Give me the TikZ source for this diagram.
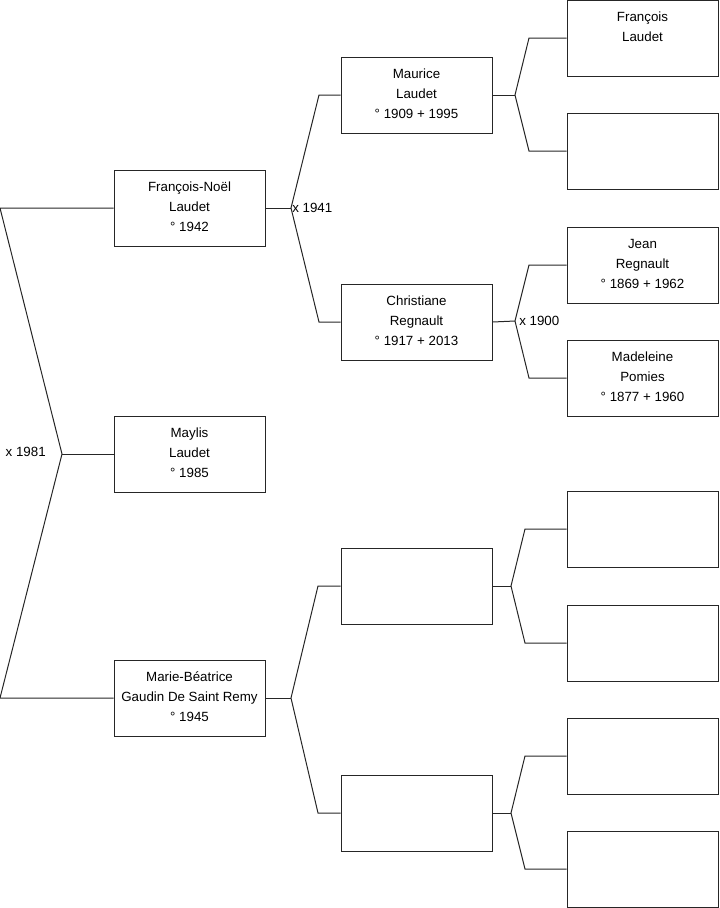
\documentclass[tikz,border=0pt]{standalone}
\usepackage{fontspec}
\setmainfont{Liberation Sans}
\begin{document}
\begin{tikzpicture}[x=0.75pt,y=-0.75pt,
  box/.style={draw=black!85, line width=0.75pt, minimum width=113.25pt, minimum height=57pt, inner sep=0pt},
  txt/.style={anchor=north, align=center, inner sep=0pt, font=\fontsize{10}{15}\selectfont, yshift=-6.1pt},
  link/.style={draw=black!85, line width=0.75pt},
  lbl/.style={font=\fontsize{10}{15}\selectfont, inner sep=0pt}]
\useasboundingbox (0,0) rectangle (719,908);

% column 1
\node[box] (fn) at (189.5,208) {};
\node[txt] (fnt) at (fn.north) {\strut François-Noël\\Laudet\\° 1942};
\node[box] (ma) at (189.5,454) {};
\node[txt] (mat) at (ma.north) {\strut Maylis\\Laudet\\° 1985};
\node[box] (mb) at (189.5,698) {};
\node[txt] (mbt) at (mb.north) {\strut Marie-Béatrice\\Gaudin De Saint Remy\\° 1945};

% column 2
\node[box] (mu) at (416.5,95) {};
\node[txt] (mut) at (mu.north) {\strut Maurice\\Laudet\\° 1909 + 1995};
\node[box] (ch) at (416.5,322) {};
\node[txt] (cht) at (ch.north) {\strut Christiane\\Regnault\\° 1917 + 2013};
\node[box] (e1) at (416.5,586) {};
\node[box] (e2) at (416.5,813) {};

% column 3
\node[box] (fr) at (642.5,38) {};
\node[txt] (frt) at (fr.north) {\strut François\\Laudet};
\node[box] (f2) at (642.5,151) {};
\node[box] (je) at (642.5,265) {};
\node[txt] (jet) at (je.north) {\strut Jean\\Regnault\\° 1869 + 1962};
\node[box] (md) at (642.5,378) {};
\node[txt] (mdt) at (md.north) {\strut Madeleine\\Pomies\\° 1877 + 1960};
\node[box] (g1) at (642.5,529) {};
\node[box] (g2) at (642.5,643) {};
\node[box] (g3) at (642.5,756) {};
\node[box] (g4) at (642.5,869) {};

% junctions and corners
\coordinate (a0) at (0,208);
\coordinate (b0) at (0,698);
\coordinate (j0) at (62,454);
\coordinate (j1) at (291,208);
\coordinate (c1a) at (319,95);
\coordinate (c1b) at (319,322);
\coordinate (j2) at (515,95);
\coordinate (c2a) at (529,38);
\coordinate (c2b) at (529,151);
\coordinate (j3) at (515,321);
\coordinate (c3a) at (529,265);
\coordinate (c3b) at (529,378);
\coordinate (k1) at (291,698);
\coordinate (d1a) at (318,586);
\coordinate (d1b) at (318,813);
\coordinate (k2) at (511,586);
\coordinate (d2a) at (525,529);
\coordinate (d2b) at (525,643);
\coordinate (k3) at (511,813);
\coordinate (d3a) at (525,756);
\coordinate (d3b) at (525,869);

% connectors
\draw[link] (fn.west) -- (a0) -- (j0) -- (b0) -- (mb.west);
\draw[link] (j0) -- (ma.west);
\draw[link] (fn.east) -- (j1);
\draw[link] (mu.west) -- (c1a) -- (j1) -- (c1b) -- (ch.west);
\draw[link] (mu.east) -- (j2);
\draw[link] (fr.west) -- (c2a) -- (j2) -- (c2b) -- (f2.west);
\draw[link] (ch.east) -- (j3);
\draw[link] (je.west) -- (c3a) -- (j3) -- (c3b) -- (md.west);
\draw[link] (mb.east) -- (k1);
\draw[link] (e1.west) -- (d1a) -- (k1) -- (d1b) -- (e2.west);
\draw[link] (e1.east) -- (k2);
\draw[link] (g1.west) -- (d2a) -- (k2) -- (d2b) -- (g2.west);
\draw[link] (e2.east) -- (k3);
\draw[link] (g3.west) -- (d3a) -- (k3) -- (d3b) -- (g4.west);

% marriage labels
\node[lbl, anchor=east] (m1981) at (46,452) {x 1981};
\node[lbl, anchor=west] (m1941) at (292,208) {x 1941};
\node[lbl, anchor=west] (m1900) at (519,321) {x 1900};
\end{tikzpicture}
\end{document}
